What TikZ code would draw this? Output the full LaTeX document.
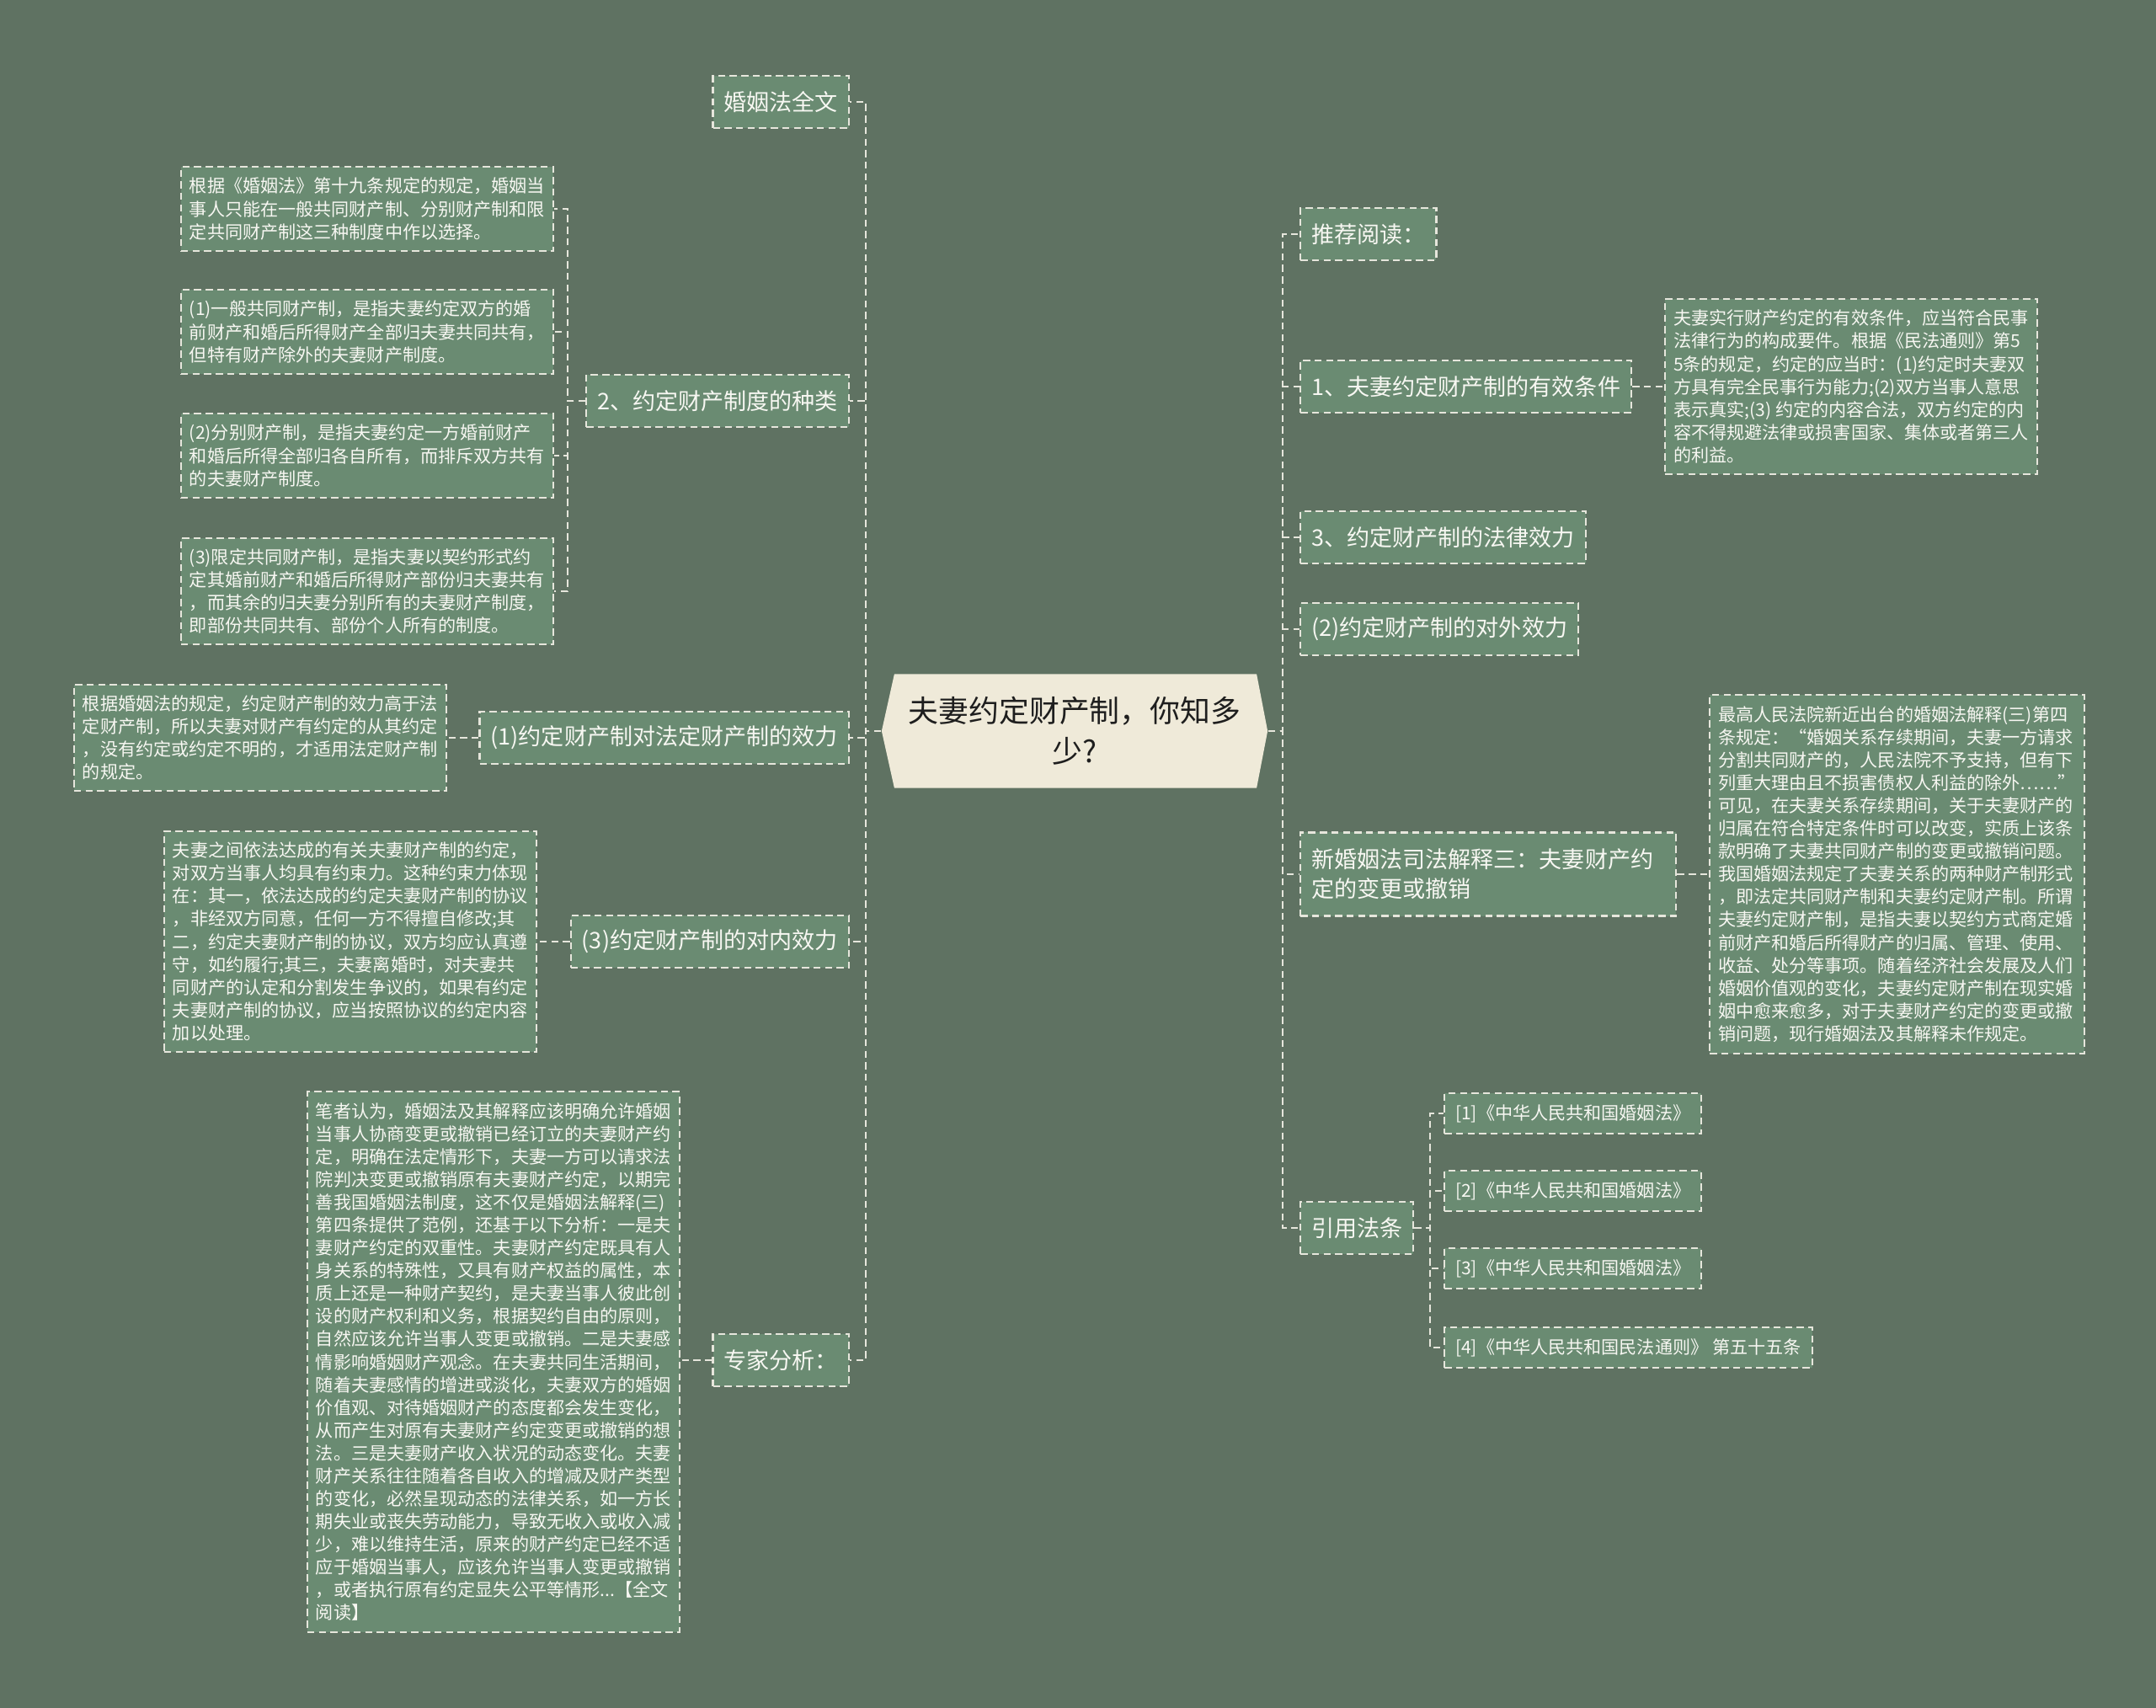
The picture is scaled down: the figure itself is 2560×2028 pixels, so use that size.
\documentclass[tikz,border=0pt]{standalone}
\usepackage{fontspec}
\setmainfont{Noto Sans CJK SC}
\usepackage{tikz}
\usetikzlibrary{positioning}
\usepackage{xcolor}
\definecolor{bgcol}{RGB}{95,114,98}
\definecolor{nodefill}{RGB}{106,139,114}
\definecolor{rootfill}{RGB}{239,234,217}
\definecolor{linec}{RGB}{230,230,220}
\definecolor{txt}{RGB}{247,247,242}
\definecolor{titletxt}{RGB}{30,30,30}

\tikzset{
    topic/.style={draw=linec, line width=0.6pt, dash pattern=on 2.4pt off 1.5pt,
                  fill=nodefill, text=txt, font=\fontsize{7.7pt}{10pt}\selectfont,
                  inner xsep=0.13cm, minimum height=0.62cm, align=left},
    leaf/.style={draw=linec, line width=0.6pt, dash pattern=on 2.4pt off 1.5pt,
                 fill=nodefill, text=txt, font=\fontsize{6pt}{7.7pt}\selectfont,
                 inner xsep=0.1cm, inner ysep=0.13cm, align=left},
    refbox/.style={leaf, inner xsep=0.13cm, minimum height=0.47cm},
    link/.style={draw=linec, line width=0.6pt, dash pattern=on 2.4pt off 1.5pt},
    root/.style={minimum width=4.58cm, minimum height=1.35cm, align=center,
                 text=titletxt, font=\fontsize{10.2pt}{13.7pt}\selectfont,
                 path picture={
                   \fill[rootfill] ([xshift=0.15cm]path picture bounding box.north west)
                     -- ([xshift=-0.13cm]path picture bounding box.north east)
                     -- (path picture bounding box.east)
                     -- ([xshift=-0.13cm]path picture bounding box.south east)
                     -- ([xshift=0.15cm]path picture bounding box.south west)
                     -- (path picture bounding box.west) -- cycle;}},
}

\begin{document}
\begin{tikzpicture}[x=0.01cm, y=-0.01cm]
    \fill[bgcol] (0,0) rectangle (2560,2028);

    % centre
    \node[root] (root) at (1276,868) {夫妻约定财产制，你知多\\少?};

    % spines
    \coordinate (spL) at (1028,0);
    \coordinate (spM) at (1523,0);
    \coordinate (spZ) at (674,0);
    \coordinate (spR) at (1698,0);

    % left side
    \node[topic, anchor=east] (wq) at (1009,121) {婚姻法全文};
    \node[topic, anchor=east] (zl) at (1009,476) {2、约定财产制度的种类};
    \node[topic, anchor=east] (dx) at (1009,876) {(1)约定财产制对法定财产制的效力};
    \node[topic, anchor=east] (dn) at (1009,1118) {(3)约定财产制的对内效力};
    \node[topic, anchor=east] (zj) at (1009,1615) {专家分析：};

    \node[leaf, anchor=east] (zlA) at (658,248)
      {根据《婚姻法》第十九条规定的规定，婚姻当\\事人只能在一般共同财产制、分别财产制和限\\定共同财产制这三种制度中作以选择。};
    \node[leaf, anchor=east] (zlB) at (658,394)
      {(1)一般共同财产制，是指夫妻约定双方的婚\\前财产和婚后所得财产全部归夫妻共同共有，\\但特有财产除外的夫妻财产制度。};
    \node[leaf, anchor=east] (zlC) at (658,541)
      {(2)分别财产制，是指夫妻约定一方婚前财产\\和婚后所得全部归各自所有，而排斥双方共有\\的夫妻财产制度。};
    \node[leaf, anchor=east] (zlD) at (658,702)
      {(3)限定共同财产制，是指夫妻以契约形式约\\定其婚前财产和婚后所得财产部份归夫妻共有\\，而其余的归夫妻分别所有的夫妻财产制度，\\即部份共同共有、部份个人所有的制度。};
    \node[leaf, anchor=east] (dxL) at (531,876)
      {根据婚姻法的规定，约定财产制的效力高于法\\定财产制，所以夫妻对财产有约定的从其约定\\，没有约定或约定不明的，才适用法定财产制\\的规定。};
    \node[leaf, anchor=east] (dnL) at (638,1118)
      {夫妻之间依法达成的有关夫妻财产制的约定，\\对双方当事人均具有约束力。这种约束力体现\\在：其一，依法达成的约定夫妻财产制的协议\\，非经双方同意，任何一方不得擅自修改;其\\二，约定夫妻财产制的协议，双方均应认真遵\\守，如约履行;其三，夫妻离婚时，对夫妻共\\同财产的认定和分割发生争议的，如果有约定\\夫妻财产制的协议，应当按照协议的约定内容\\加以处理。};
    \node[leaf, anchor=east] (zjL) at (808,1617)
      {笔者认为，婚姻法及其解释应该明确允许婚姻\\当事人协商变更或撤销已经订立的夫妻财产约\\定，明确在法定情形下，夫妻一方可以请求法\\院判决变更或撤销原有夫妻财产约定，以期完\\善我国婚姻法制度，这不仅是婚姻法解释(三)\\第四条提供了范例，还基于以下分析：一是夫\\妻财产约定的双重性。夫妻财产约定既具有人\\身关系的特殊性，又具有财产权益的属性，本\\质上还是一种财产契约，是夫妻当事人彼此创\\设的财产权利和义务，根据契约自由的原则，\\自然应该允许当事人变更或撤销。二是夫妻感\\情影响婚姻财产观念。在夫妻共同生活期间，\\随着夫妻感情的增进或淡化，夫妻双方的婚姻\\价值观、对待婚姻财产的态度都会发生变化，\\从而产生对原有夫妻财产约定变更或撤销的想\\法。三是夫妻财产收入状况的动态变化。夫妻\\财产关系往往随着各自收入的增减及财产类型\\的变化，必然呈现动态的法律关系，如一方长\\期失业或丧失劳动能力，导致无收入或收入减\\少，难以维持生活，原来的财产约定已经不适\\应于婚姻当事人，应该允许当事人变更或撤销\\，或者执行原有约定显失公平等情形...【全文\\阅读】};

    % right side
    \node[topic, anchor=west] (tj) at (1543,278) {推荐阅读：};
    \node[topic, anchor=west] (yx) at (1543,459) {1、夫妻约定财产制的有效条件};
    \node[topic, anchor=west] (fl) at (1543,638) {3、约定财产制的法律效力};
    \node[topic, anchor=west] (dw) at (1543,747) {(2)约定财产制的对外效力};
    \node[topic, anchor=west, text width=4.2cm, minimum height=0.99cm] (bg) at (1543,1038)
      {新婚姻法司法解释三：夫妻财产约\\定的变更或撤销};
    \node[topic, anchor=west] (yy) at (1543,1458) {引用法条};

    \node[leaf, anchor=west] (yxL) at (1976,459)
      {夫妻实行财产约定的有效条件，应当符合民事\\法律行为的构成要件。根据《民法通则》第5\\5条的规定，约定的应当时：(1)约定时夫妻双\\方具有完全民事行为能力;(2)双方当事人意思\\表示真实;(3) 约定的内容合法，双方约定的内\\容不得规避法律或损害国家、集体或者第三人\\的利益。};
    \node[leaf, anchor=west] (bgL) at (2029,1038)
      {最高人民法院新近出台的婚姻法解释(三)第四\\条规定：“婚姻关系存续期间，夫妻一方请求\\分割共同财产的，人民法院不予支持，但有下\\列重大理由且不损害债权人利益的除外……”\\可见，在夫妻关系存续期间，关于夫妻财产的\\归属在符合特定条件时可以改变，实质上该条\\款明确了夫妻共同财产制的变更或撤销问题。\\我国婚姻法规定了夫妻关系的两种财产制形式\\，即法定共同财产制和夫妻约定财产制。所谓\\夫妻约定财产制，是指夫妻以契约方式商定婚\\前财产和婚后所得财产的归属、管理、使用、\\收益、处分等事项。随着经济社会发展及人们\\婚姻价值观的变化，夫妻约定财产制在现实婚\\姻中愈来愈多，对于夫妻财产约定的变更或撤\\销问题，现行婚姻法及其解释未作规定。};

    \node[refbox, anchor=west] (r1) at (1714,1322) {[1]《中华人民共和国婚姻法》};
    \node[refbox, anchor=west] (r2) at (1714,1414) {[2]《中华人民共和国婚姻法》};
    \node[refbox, anchor=west] (r3) at (1714,1506) {[3]《中华人民共和国婚姻法》};
    \node[refbox, anchor=west] (r4) at (1714,1600) {[4]《中华人民共和国民法通则》 第五十五条};

    % connectors
    \foreach \n in {wq,zl,dx,dn,zj}
      \draw[link] (root.west) -- (root.west -| spL) |- (\n.east);
    \foreach \n in {tj,yx,fl,dw,bg,yy}
      \draw[link] (root.east) -- (root.east -| spM) |- (\n.west);
    \foreach \n in {zlA,zlB,zlC,zlD}
      \draw[link] (zl.west) -- (zl.west -| spZ) |- (\n.east);
    \foreach \n in {r1,r2,r3,r4}
      \draw[link] (yy.east) -- (yy.east -| spR) |- (\n.west);
    \draw[link] (dx.west) -- (dxL.east);
    \draw[link] (dn.west) -- (dnL.east);
    \draw[link] (zj.west) -- (zj.west -| zjL.east);
    \draw[link] (yx.east) -- (yxL.west);
    \draw[link] (bg.east) -- (bgL.west);
\end{tikzpicture}
\end{document}
